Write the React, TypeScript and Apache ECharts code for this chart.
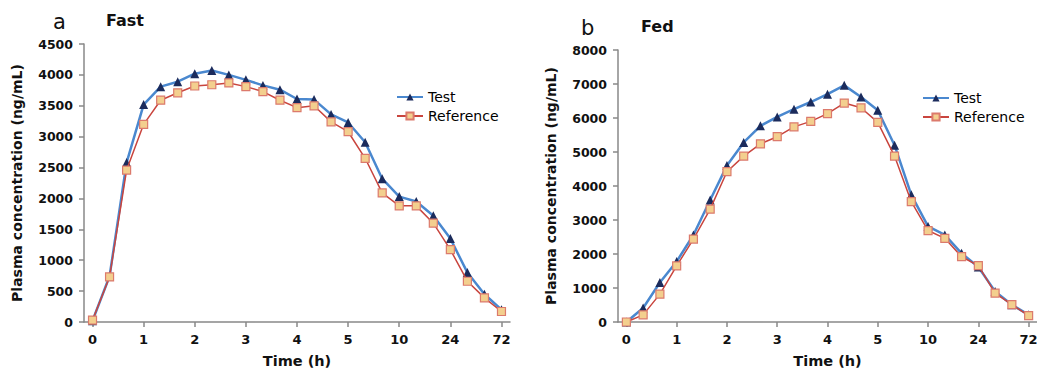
import React, { useEffect, useRef } from "react";
import * as echarts from "echarts";

const timeCategories = ["0","0.33","0.67","1","1.33","1.67","2","2.33","2.67","3","3.33","3.67","4","4.33","4.67","5","6","8","10","12","16","24","36","48","72"];

const fastTest = [20,740,2580,3520,3810,3890,4020,4070,4000,3920,3830,3760,3610,3600,3360,3230,2910,2320,2030,1950,1720,1350,800,450,200];
const fastReference = [30,730,2460,3200,3590,3710,3820,3840,3870,3810,3730,3590,3470,3500,3240,3080,2650,2090,1880,1880,1600,1170,660,390,170];

const fedTest = [0,410,1160,1780,2560,3590,4600,5280,5770,6030,6260,6470,6700,6960,6620,6230,5200,3740,2810,2560,2020,1620,900,510,210];
const fedReference = [0,210,820,1650,2440,3320,4420,4880,5240,5450,5740,5900,6130,6440,6300,5870,4880,3540,2690,2460,1920,1660,850,510,190];

const FONT = "DejaVu Sans, Verdana, sans-serif";
const TEST_LINE = "#4a88cf";
const TEST_MARK = "#1b2b5c";
const REF_LINE = "#c9453e";
const REF_FILL = "#f3cf8e";
const REF_BORDER = "#dc7a6c";

function xAxis(gridIndex: number) {
  return {
    type: "category",
    gridIndex,
    data: timeCategories,
    boundaryGap: true,
    name: "Time (h)",
    nameLocation: "middle",
    nameGap: 31,
    nameTextStyle: { fontFamily: FONT, fontWeight: "bold", fontSize: 14.5, color: "#111" },
    axisLine: { lineStyle: { color: "#888", width: 1.5 } },
    axisTick: { show: true, interval: 2, alignWithLabel: true, length: 5, lineStyle: { color: "#888", width: 1.5 } },
    axisLabel: { interval: 2, margin: 11, fontFamily: FONT, fontWeight: "bold", fontSize: 13, color: "#111" },
    splitLine: { show: false },
  };
}

function yAxis(gridIndex: number, max: number, interval: number) {
  return {
    type: "value",
    gridIndex,
    min: 0,
    max,
    interval,
    name: "Plasma concentration (ng/mL)",
    nameLocation: "middle",
    nameGap: 60,
    nameTextStyle: { fontFamily: FONT, fontWeight: "bold", fontSize: 14, color: "#111" },
    axisLine: { show: true, lineStyle: { color: "#888", width: 1.5 } },
    axisTick: { show: true, length: 5, lineStyle: { color: "#888", width: 1.5 } },
    axisLabel: { margin: 11, fontFamily: FONT, fontWeight: "bold", fontSize: 12.5, color: "#111", formatter: (v: number) => String(v) },
    splitLine: { show: false },
  };
}

function testSeries(idx: number, data: number[]) {
  return {
    name: "Test",
    type: "line",
    xAxisIndex: idx,
    yAxisIndex: idx,
    data,
    symbol: "triangle",
    symbolSize: 9,
    showAllSymbol: true,
    lineStyle: { color: TEST_LINE, width: 2.5 },
    itemStyle: { color: TEST_MARK, borderColor: TEST_MARK, borderWidth: 0 },
    z: 2,
  };
}

function refSeries(idx: number, data: number[]) {
  return {
    name: "Reference",
    type: "line",
    xAxisIndex: idx,
    yAxisIndex: idx,
    data,
    symbol: "rect",
    symbolSize: 8,
    showAllSymbol: true,
    lineStyle: { color: REF_LINE, width: 1.5 },
    itemStyle: { color: REF_FILL, borderColor: REF_BORDER, borderWidth: 1.2 },
    z: 3,
  };
}

function legend(left: number, top: number) {
  return {
    orient: "vertical",
    left,
    top,
    itemWidth: 26,
    itemHeight: 9,
    itemGap: 5,
    textStyle: { fontFamily: FONT, fontSize: 14, color: "#000" },
    data: [{ name: "Test" }, { name: "Reference" }],
  };
}

export default function App() {
  const ref = useRef<HTMLDivElement>(null);
  useEffect(() => {
    if (!ref.current) return;
    const chart = echarts.init(ref.current, undefined, { renderer: "svg" });
    chart.setOption({
      animation: false,
      backgroundColor: "#fff",
      grid: [
        { left: 84, top: 44, width: 426, height: 278, outerBoundsMode: "none", containLabel: false },
        { left: 618, top: 50, width: 419, height: 272, outerBoundsMode: "none", containLabel: false },
      ],
      xAxis: [xAxis(0), xAxis(1)],
      yAxis: [yAxis(0, 4500, 500), yAxis(1, 8000, 1000)],
      legend: [legend(391, 85), legend(917, 86)],
      series: [
        testSeries(0, fastTest),
        refSeries(0, fastReference),
        testSeries(1, fedTest),
        refSeries(1, fedReference),
      ],
      graphic: [
        { type: "text", left: 53, top: 11, style: { text: "a", fontFamily: FONT, fontSize: 21, fill: "#111" } },
        { type: "text", left: 106, top: 12, style: { text: "Fast", fontFamily: FONT, fontSize: 16, fontWeight: "bold", fill: "#111" } },
        { type: "text", left: 581, top: 17, style: { text: "b", fontFamily: FONT, fontSize: 21, fill: "#111" } },
        { type: "text", left: 641, top: 18, style: { text: "Fed", fontFamily: FONT, fontSize: 16, fontWeight: "bold", fill: "#111" } },
      ],
    });
    return () => chart.dispose();
  }, []);
  return <div ref={ref} style={{ position: "absolute", left: 0, top: 0, width: 1037, height: 371 }} />;
}
